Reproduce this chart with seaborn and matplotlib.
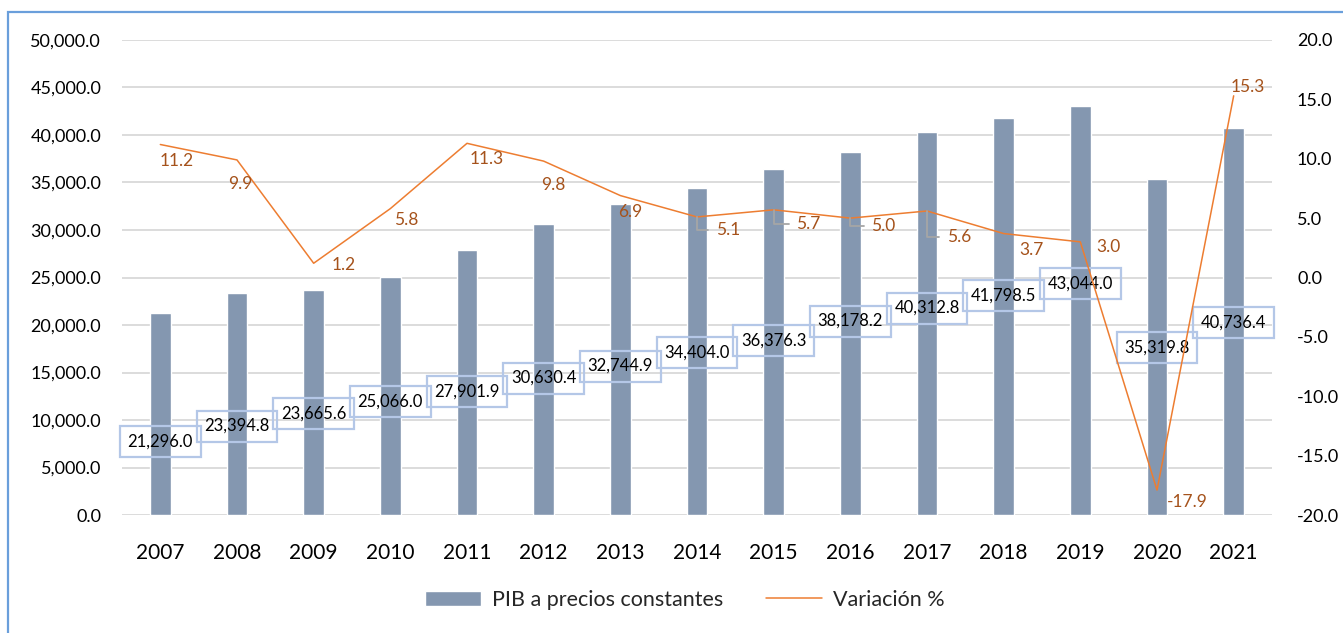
import numpy as np
import pandas as pd
import matplotlib
matplotlib.use("Agg")
import matplotlib.pyplot as plt
import seaborn as sns
from matplotlib.patches import Rectangle
from matplotlib.ticker import FuncFormatter, MultipleLocator

years = [2007, 2008, 2009, 2010, 2011, 2012, 2013, 2014,
         2015, 2016, 2017, 2018, 2019, 2020, 2021]
pib = [21296.0, 23394.8, 23665.6, 25066.0, 27901.9, 30630.4, 32744.9, 34404.0,
       36376.3, 38178.2, 40312.8, 41798.5, 43044.0, 35319.8, 40736.4]
variacion = [11.2, 9.9, 1.2, 5.8, 11.3, 9.8, 6.9, 5.1,
             5.7, 5.0, 5.6, 3.7, 3.0, -17.9, 15.3]

# where the boxed PIB labels sit (left axis units), as placed in the original
pib_label_y = [7737, 9368, 10632, 11895, 13000, 14421, 15684, 17105,
               18368, 20421, 21789, 23053, 24316, 17579, 20263]
# offsets (pixels) of the % labels from their points
var_label_off = [(16, -16), (3, -24), (30, -2), (16, -11), (20, -16), (10, -24), (10, -16),
                 (31, -13), (35, -14), (33, -8), (32, -26), (28, -16), (28, -5),
                 (30, -12), (14, 9)]
leader_years = [2014, 2015, 2016, 2017]

BAR = "#8497B0"
LINE = "#ED7D31"
LBL = "#A5521B"

sns.set_theme(style="white")
plt.rcParams["font.family"] = ["Lato", "DejaVu Sans"]

fig = plt.figure(figsize=(13.43, 6.33), dpi=100)
fig.patches.append(Rectangle((8 / 1343, -0.2), 1.2, 1.2 - 12 / 633,
                             transform=fig.transFigure, fill=False,
                             ec="#6A9FDB", lw=1.6, zorder=0))

ax = fig.add_axes([122 / 1343, 1 - 515 / 633, 1150 / 1343, 475 / 633])
df = pd.DataFrame({"Año": [str(y) for y in years], "PIB": pib})
sns.barplot(data=df, x="Año", y="PIB", color=BAR, saturation=1, width=0.27,
            ax=ax, zorder=2, label="PIB a precios constantes")

ax.set_ylim(0, 50000)
ax.set_xlim(-0.5, len(years) - 0.5)
ax.yaxis.set_major_locator(MultipleLocator(5000))
ax.yaxis.set_major_formatter(FuncFormatter(lambda v, p: f"{v:,.1f}"))
ax.set_axisbelow(True)
ax.yaxis.grid(True, color="#D9D9D9", lw=1.3)
ax.set_xlabel("")
ax.set_ylabel("")
ax.tick_params(axis="y", length=0, pad=15, labelsize=13, colors="#000000")
ax.tick_params(axis="x", length=0, pad=20, labelsize=15, colors="#000000")
for s in ax.spines.values():
    s.set_visible(False)

for i, v in enumerate(pib):
    ax.text(i, pib_label_y[i], f"{v:,.1f}", ha="center", va="center", fontsize=12,
            color="#000000", zorder=3,
            bbox=dict(boxstyle="square,pad=0.45", fc="none", ec="#B4C7E7", lw=1.6))

ax2 = ax.twinx()
sns.lineplot(x=np.arange(len(years)), y=variacion, color=LINE, lw=1.1, ax=ax2,
             label="Variación %")
if ax2.get_legend() is not None:
    ax2.get_legend().remove()
ax2.set_ylim(-20, 20)
ax2.yaxis.set_major_locator(MultipleLocator(5))
ax2.yaxis.set_major_formatter(FuncFormatter(lambda v, p: f"{v:.1f}"))
ax2.tick_params(axis="y", length=0, pad=18, labelsize=13, colors="#000000")
ax2.set_ylabel("")
for s in ax2.spines.values():
    s.set_visible(False)

for i, v in enumerate(variacion):
    kw = {}
    if years[i] in leader_years:
        kw["arrowprops"] = dict(arrowstyle="-", color="#A6A6A6", lw=1.3,
                                connectionstyle="angle,angleA=0,angleB=90,rad=0",
                                relpos=(0, 0.5), shrinkA=3, shrinkB=0)
    ax2.annotate(f"{v:.1f}", xy=(i, v), xytext=var_label_off[i], textcoords="offset pixels",
                 ha="center", va="center", fontsize=12.5, color=LBL, **kw)

h1, l1 = ax.get_legend_handles_labels()
h2, l2 = ax2.get_legend_handles_labels()
if ax.get_legend() is not None:
    ax.get_legend().remove()
fig.legend(h1 + h2, l1 + l2, loc="center", bbox_to_anchor=(685 / 1343, 1 - 600 / 633),
           ncol=2, frameon=False, fontsize=15.5, handlelength=2.6, handletextpad=0.5,
           columnspacing=2.0)

fig.savefig("out.png", dpi=100, facecolor="white")
